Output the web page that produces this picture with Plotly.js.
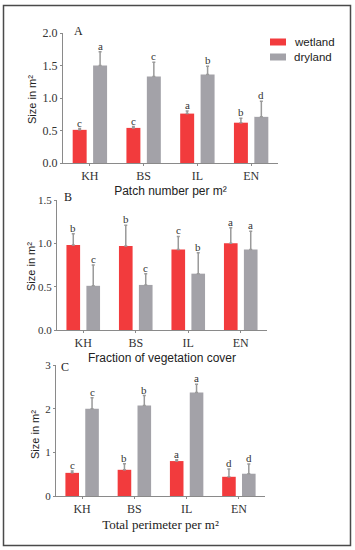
<!DOCTYPE html>
<html><head><meta charset="utf-8">
<script src="https://cdn.plot.ly/plotly-3.0.1.min.js"></script>
<style>html,body{margin:0;padding:0;background:#fff;}#chart{width:355px;height:550px;}</style>
</head><body><div id="chart"></div>
<script>
var categories = ['KH', 'BS', 'IL', 'EN'];
var seriesNames = ['wetland', 'dryland'];

var A_wet = [0.51, 0.54, 0.76, 0.62];
var A_wet_err = [0.02, 0.02, 0.04, 0.07];
var A_dry = [1.50, 1.33, 1.36, 0.71];
var A_dry_err = [0.21, 0.22, 0.13, 0.24];
var A_wet_letters = ['c', 'c', 'a', 'b'];
var A_dry_letters = ['a', 'c', 'b', 'd'];

var B_wet = [0.98, 0.97, 0.93, 1.00];
var B_wet_err = [0.13, 0.24, 0.15, 0.18];
var B_dry = [0.51, 0.52, 0.65, 0.93];
var B_dry_err = [0.24, 0.13, 0.24, 0.21];
var B_wet_letters = ['b', 'b', 'c', 'a'];
var B_dry_letters = ['c', 'c', 'b', 'a'];

var C_wet = [0.53, 0.60, 0.80, 0.44];
var C_wet_err = [0.04, 0.14, 0.03, 0.18];
var C_dry = [2.00, 2.07, 2.37, 0.51];
var C_dry_err = [0.25, 0.23, 0.19, 0.22];
var C_wet_letters = ['c', 'b', 'a', 'd'];
var C_dry_letters = ['c', 'b', 'a', 'd'];

var panelLabels = ['A', 'B', 'C'];
var xTitles = ['Patch number per m²', 'Fraction of vegetation cover', 'Total perimeter per m²'];
var yTitle = 'Size in m²';

var RED = '#f23b3d', GRAY = '#a3a2a8', AXC = '#8a8a8a';
var SERIF = 'Liberation Serif, Times New Roman, serif';
var SANS = 'Liberation Sans, Arial, sans-serif';
var W = 355, H = 550;

var panels = [
  {wet: A_wet, we: A_wet_err, dry: A_dry, de: A_dry_err, wl: A_wet_letters, dl: A_dry_letters,
   px: [63, 278], py: [33, 163], range: [0, 2], dtick: 0.5, fmt: '.1f', tfs: 12, lab: [78, 31], yt: [32, 100]},
  {wet: B_wet, we: B_wet_err, dry: B_dry, de: B_dry_err, wl: B_wet_letters, dl: B_dry_letters,
   px: [57, 267], py: [200, 330], range: [0, 1.5], dtick: 0.5, fmt: '.1f', tfs: 11, lab: [68, 197], yt: [31, 266]},
  {wet: C_wet, we: C_wet_err, dry: C_dry, de: C_dry_err, wl: C_wet_letters, dl: C_dry_letters,
   px: [56, 265], py: [365, 496], range: [0, 3], dtick: 1, fmt: 'd', tfs: 11, lab: [65, 367], yt: [35, 435]}
];

var BW = 0.26, OFF = 0.19;
var data = [], annotations = [], shapes = [];
var layout = {
  width: W, height: H, margin: {l: 0, r: 0, t: 0, b: 0},
  paper_bgcolor: '#fff', plot_bgcolor: '#fff',
  barmode: 'overlay', showlegend: false,
  font: {family: SERIF, color: '#333'}
};

panels.forEach(function (p, k) {
  var xa = k === 0 ? 'x' : 'x' + (k + 1);
  var ya = k === 0 ? 'y' : 'y' + (k + 1);
  var xk = k === 0 ? 'xaxis' : 'xaxis' + (k + 1);
  var yk = k === 0 ? 'yaxis' : 'yaxis' + (k + 1);
  var idx = categories.map(function (c, i) { return i; });
  data.push({
    type: 'bar', name: seriesNames[0], x: categories, y: p.wet, xaxis: xa, yaxis: ya,
    width: BW, offset: -OFF - BW / 2, marker: {color: RED},
    error_y: {type: 'data', array: p.we, arrayminus: p.we.map(function () { return 0; }), symmetric: false,
              color: '#9a9a9a', thickness: 1.5, width: 1.5}
  });
  data.push({
    type: 'bar', name: seriesNames[1], x: categories, y: p.dry, xaxis: xa, yaxis: ya,
    width: BW, offset: OFF - BW / 2, marker: {color: GRAY},
    error_y: {type: 'data', array: p.de, arrayminus: p.de.map(function () { return 0; }), symmetric: false,
              color: '#9a9a9a', thickness: 1.5, width: 1.5}
  });
  layout[xk] = {
    domain: [p.px[0] / W, p.px[1] / W], anchor: ya, type: 'category', range: [-0.5, 3.5],
    showline: true, linecolor: AXC, linewidth: 1, ticks: 'outside', ticklen: 2, tickcolor: AXC,
    tickfont: {family: SERIF, size: 12, color: '#333'}, showgrid: false, zeroline: false, fixedrange: true,
    title: {text: xTitles[k], standoff: 4,
            font: {family: k === 2 ? SERIF : SANS, size: k === 2 ? 13 : 12, color: '#222'}}
  };
  layout[yk] = {
    domain: [1 - p.py[1] / H, 1 - p.py[0] / H], anchor: xa, range: p.range, dtick: p.dtick, tick0: 0,
    tickformat: p.fmt, showline: true, linecolor: AXC, linewidth: 1, ticks: 'outside', ticklen: 2,
    tickcolor: AXC, tickfont: {family: SERIF, size: p.tfs, color: '#333'}, showgrid: false, zeroline: false,
    fixedrange: true
  };
  annotations.push({xref: 'paper', yref: 'paper', x: p.yt[0] / W, y: 1 - p.yt[1] / H, text: yTitle,
    textangle: -90, showarrow: false, xanchor: 'center', yanchor: 'middle',
    font: {family: SANS, size: 11, color: '#222'}});
  annotations.push({xref: 'paper', yref: 'paper', x: p.lab[0] / W, y: 1 - p.lab[1] / H, text: panelLabels[k],
    showarrow: false, xanchor: 'center', yanchor: 'middle', font: {family: SERIF, size: 12, color: '#222'}});
  idx.forEach(function (i) {
    annotations.push({xref: xa, yref: ya, x: i - OFF, y: p.wet[i] + p.we[i], text: p.wl[i],
      showarrow: false, yanchor: 'bottom', yshift: -2, font: {family: SERIF, size: 11, color: '#333'}});
    annotations.push({xref: xa, yref: ya, x: i + OFF, y: p.dry[i] + p.de[i], text: p.dl[i],
      showarrow: false, yanchor: 'bottom', yshift: -2, font: {family: SERIF, size: 11, color: '#333'}});
  });
});

// legend (drawn as shapes + text to match the reference key)
var legendColors = [RED, GRAY];
var legendRows = [42, 57];
seriesNames.forEach(function (n, j) {
  var yc = legendRows[j];
  shapes.push({type: 'rect', xref: 'paper', yref: 'paper', x0: 270 / W, x1: 286 / W,
    y0: 1 - (yc + 3.5) / H, y1: 1 - (yc - 3.5) / H, line: {width: 0}, fillcolor: legendColors[j]});
  annotations.push({xref: 'paper', yref: 'paper', x: 292 / W, y: 1 - yc / H, text: n, showarrow: false,
    xanchor: 'left', yanchor: 'middle', font: {family: SANS, size: 11.5, color: '#222'}});
});

shapes.push({type: 'rect', xref: 'paper', yref: 'paper', x0: 3.5 / W, x1: 350.5 / W, y0: 1 - 545.5 / H, y1: 1 - 5.5 / H,
  line: {color: '#4a4a4a', width: 1.5}, fillcolor: 'rgba(0,0,0,0)'});

layout.annotations = annotations;
layout.shapes = shapes;

Plotly.newPlot('chart', data, layout, {displayModeBar: false, staticPlot: true});
</script>
</body></html>
